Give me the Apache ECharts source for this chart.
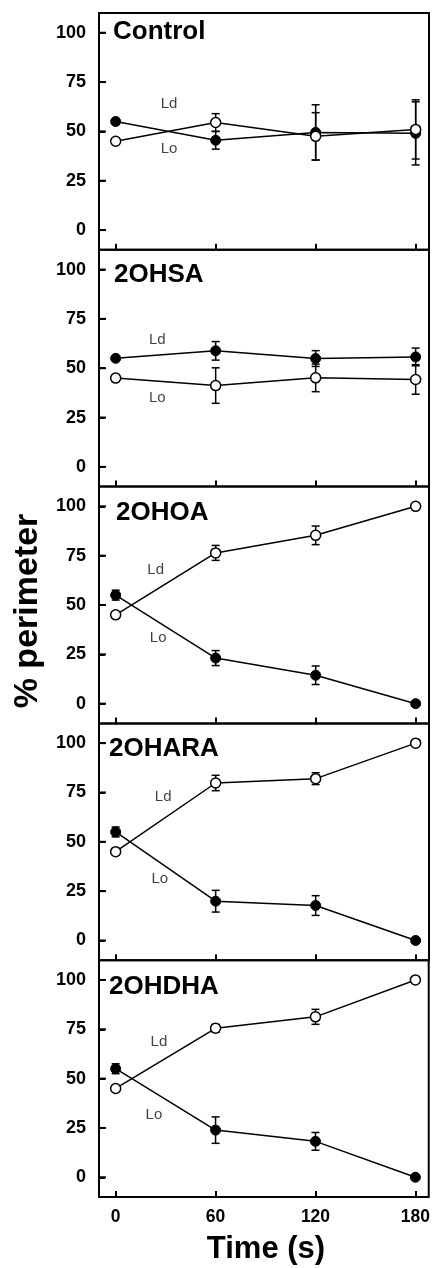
<!DOCTYPE html>
<html>
<head>
<meta charset="utf-8">
<script src="https://cdn.jsdelivr.net/npm/echarts@6/dist/echarts.min.js"></script>
<style>
html,body{margin:0;padding:0;background:#fff;}
#chart{width:433px;height:1268px;}
</style>
</head>
<body>
<div id="chart"></div>
<script>
// ---- data ----
const times = [0, 60, 120, 180];
const xTickValues = [0, 60, 120, 180];
const yTickValues = [0, 25, 50, 75, 100];
const panelNames = ['Control', '2OHSA', '2OHOA', '2OHARA', '2OHDHA'];

const controlFilled = [55, 45.5, 49.5, 49];
const controlFilledErr = [0, 4.5, 14, 16];
const controlOpen = [45, 54.5, 47.5, 51];
const controlOpenErr = [0, 4.5, 12, 15];

const ohsaFilled = [55, 58.8, 54.9, 55.7];
const ohsaFilledErr = [0, 4.7, 4, 4.5];
const ohsaOpen = [45, 41.2, 45.1, 44.3];
const ohsaOpenErr = [0, 9, 7, 7.5];

const ohoaFilled = [55, 23.1, 14.4, 0];
const ohoaFilledErr = [2.5, 3.8, 4.7, 0];
const ohoaOpen = [45, 76.4, 85.3, 100];
const ohoaOpenErr = [0, 3.8, 4.7, 0];

const oharaFilled = [55, 19.9, 17.7, 0];
const oharaFilledErr = [2.5, 5.5, 5, 0];
const oharaOpen = [45, 79.8, 82, 100];
const oharaOpenErr = [0, 3.9, 3, 0];

const ohdhaFilled = [55, 23.9, 18.2, 0];
const ohdhaFilledErr = [2.5, 6.7, 4.5, 0];
const ohdhaOpen = [45, 75.5, 81.3, 100];
const ohdhaOpenErr = [0, 2, 3.8, 0];

// annotation anchors in data units [time, %]
const ldLabelPos = [[32, 64], [25, 64.3], [24, 68], [28.5, 73], [26, 68.5]];
const loLabelPos = [[32, 41], [25, 35], [25.5, 33.5], [26.5, 31], [23, 31.7]];

// ---- build ----
const filledSets = [controlFilled, ohsaFilled, ohoaFilled, oharaFilled, ohdhaFilled];
const filledErrSets = [controlFilledErr, ohsaFilledErr, ohoaFilledErr, oharaFilledErr, ohdhaFilledErr];
const openSets = [controlOpen, ohsaOpen, ohoaOpen, oharaOpen, ohdhaOpen];
const openErrSets = [controlOpenErr, ohsaOpenErr, ohoaOpenErr, oharaOpenErr, ohdhaOpenErr];

const FONT = '"Liberation Sans", Arial, Helvetica, sans-serif';
const X_MIN = -10, X_MAX = 188, Y_MIN = -10, Y_MAX = 110;
const gridTop0 = 13, gridH = 236.8, gridLeft = 99, gridRight = 4;
const titleX = [113, 114, 116, 109, 109];
const titleDy = [19, 25, 26, 25, 27];

function errData(vals, errs) {
  const out = [];
  vals.forEach((v, i) => { if (errs[i] > 0) out.push([times[i], v - errs[i], v + errs[i]]); });
  return out;
}
function renderErr(params, api) {
  const x = api.value(0);
  const top = api.coord([x, api.value(2)]);
  const bot = api.coord([x, api.value(1)]);
  const w = 4;
  const st = { stroke: '#000', lineWidth: 1.5 };
  return { type: 'group', children: [
    { type: 'line', shape: { x1: top[0], y1: top[1], x2: bot[0], y2: bot[1] }, style: st },
    { type: 'line', shape: { x1: top[0] - w, y1: top[1], x2: top[0] + w, y2: top[1] }, style: st },
    { type: 'line', shape: { x1: bot[0] - w, y1: bot[1], x2: bot[0] + w, y2: bot[1] }, style: st }
  ]};
}
// y-axis tick marks drawn inward from the left frame, positioned by the scales
function renderYTick(params, api) {
  const pt = api.coord([api.value(0), api.value(1)]);
  return { type: 'line', shape: { x1: pt[0], y1: pt[1], x2: pt[0] + 7, y2: pt[1] },
    style: { stroke: '#000', lineWidth: 2 } };
}

const grids = [], xAxes = [], yAxes = [], series = [], graphics = [];
panelNames.forEach((name, p) => {
  const top = gridTop0 + p * gridH;
  grids.push({ left: gridLeft, right: gridRight, top: top, height: gridH, show: true,
    borderColor: '#000', borderWidth: 2 });
  const last = p === panelNames.length - 1;
  xAxes.push({ type: 'value', gridIndex: p, min: X_MIN, max: X_MAX,
    axisLine: { show: false, onZero: false }, splitLine: { show: false },
    axisTick: { show: true, inside: true, length: 6, customValues: xTickValues, lineStyle: { color: '#000', width: 2 } },
    axisLabel: { show: last, customValues: xTickValues, color: '#000', fontFamily: FONT, fontWeight: 'bold', fontSize: 17.5, margin: 11 } });
  yAxes.push({ type: 'value', gridIndex: p, min: Y_MIN, max: Y_MAX,
    axisLine: { show: false, onZero: false }, splitLine: { show: false },
    axisTick: { show: true, inside: true, length: 6, customValues: yTickValues, lineStyle: { color: '#000', width: 2 } },
    axisLabel: { customValues: yTickValues, color: '#000', fontFamily: FONT, fontWeight: 'bold', fontSize: 18, margin: 13 } });

  series.push({ type: 'custom', xAxisIndex: p, yAxisIndex: p, z: 6, renderItem: renderYTick,
    encode: { x: 0, y: 1 }, data: yTickValues.map(v => [X_MIN, v]), clip: false, silent: true });
  series.push({ type: 'custom', xAxisIndex: p, yAxisIndex: p, z: 1, renderItem: renderErr,
    encode: { x: 0, y: [1, 2] }, data: errData(filledSets[p], filledErrSets[p]), clip: false });
  series.push({ type: 'custom', xAxisIndex: p, yAxisIndex: p, z: 1, renderItem: renderErr,
    encode: { x: 0, y: [1, 2] }, data: errData(openSets[p], openErrSets[p]), clip: false });
  series.push({ type: 'line', xAxisIndex: p, yAxisIndex: p, z: 3,
    data: times.map((t, i) => [t, filledSets[p][i]]),
    symbol: 'circle', symbolSize: 10, showSymbol: true,
    lineStyle: { color: '#000', width: 1.5 },
    itemStyle: { color: '#000', borderColor: '#000', borderWidth: 1 } });
  series.push({ type: 'line', xAxisIndex: p, yAxisIndex: p, z: 4,
    data: times.map((t, i) => [t, openSets[p][i]]),
    symbol: 'circle', symbolSize: 10, showSymbol: true,
    lineStyle: { color: '#000', width: 1.5 },
    itemStyle: { color: '#fff', borderColor: '#000', borderWidth: 1.5 } });
  series.push({ type: 'scatter', xAxisIndex: p, yAxisIndex: p, z: 5, symbolSize: 0, silent: true,
    data: [
      { value: ldLabelPos[p], name: 'Ld' },
      { value: loLabelPos[p], name: 'Lo' }
    ],
    label: { show: true, position: 'inside', formatter: '{b}', color: '#111', fontFamily: FONT, fontSize: 15 } });

  graphics.push({ type: 'text', x: titleX[p], y: top + titleDy[p],
    style: { text: name, fill: '#000', font: 'bold 26px ' + FONT, textVerticalAlign: 'middle', textAlign: 'left' } });
});

graphics.push({ type: 'text', x: 28, y: 611, rotation: Math.PI / 2,
  style: { text: '% perimeter', fill: '#000', font: 'bold 34px ' + FONT, textAlign: 'center', textVerticalAlign: 'middle' } });
graphics.push({ type: 'text', x: 266, y: 1249,
  style: { text: 'Time (s)', fill: '#000', font: 'bold 31px ' + FONT, textAlign: 'center', textVerticalAlign: 'middle' } });

const chart = echarts.init(document.getElementById('chart'), null, { renderer: 'canvas' });
chart.setOption({
  animation: false,
  backgroundColor: '#fff',
  grid: grids,
  xAxis: xAxes,
  yAxis: yAxes,
  series: series,
  graphic: graphics
});
</script>
</body>
</html>
